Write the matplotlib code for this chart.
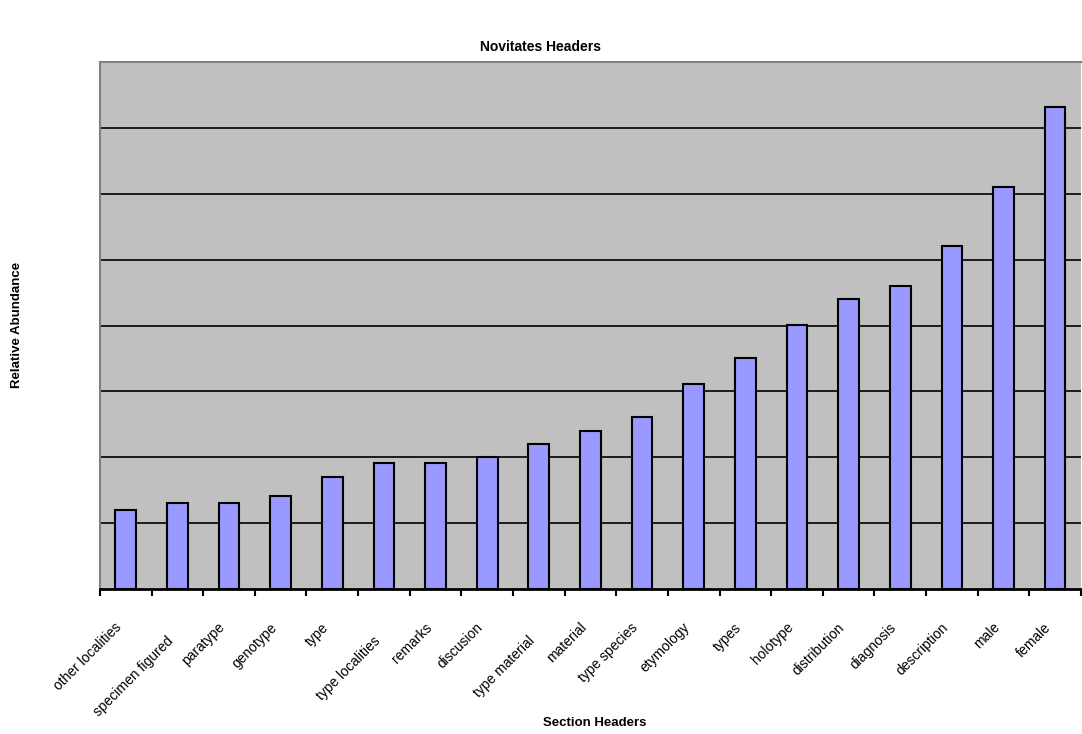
import matplotlib
matplotlib.use("Agg")
import matplotlib.pyplot as plt
import numpy as np

plt.rcParams['font.family'] = ['Liberation Sans', 'DejaVu Sans']

headers = ["other localities", "specimen figured", "paratype", "genotype", "type",
           "type localities", "remarks", "discusion", "type material", "material",
           "type species", "etymology", "types", "holotype", "distribution",
           "diagnosis", "description", "male", "female"]
abundance = [1.20, 1.31, 1.31, 1.41, 1.70, 1.91, 1.91, 2.00, 2.20, 2.40,
             2.61, 3.12, 3.51, 4.01, 4.41, 4.60, 5.21, 6.11, 7.31]
# labels pushed down a row so neighbours don't collide
staggered = {1, 5, 8}

def main():
    fig = plt.figure(figsize=(10.82, 7.34), dpi=100)
    ax = fig.add_axes([0.0924, 0.1975, 0.9066, 0.718])
    ax.set_facecolor('#c0c0c0')

    x = np.arange(len(headers))
    ax.bar(x, abundance, width=0.4, color='#9999ff', edgecolor='black',
           linewidth=1.5, zorder=3)

    ax.set_xlim(-0.5, len(headers) - 0.5)
    ax.set_ylim(0, 8)
    ax.set_yticks(np.arange(1, 8))
    ax.yaxis.grid(True, color='black', linewidth=1.2, zorder=1)
    ax.tick_params(axis='y', left=False, labelleft=False)

    # category boundaries carry the tick marks
    ax.set_xticks(np.arange(len(headers) + 1) - 0.5)
    ax.tick_params(axis='x', direction='out', length=5, width=1.5,
                   color='black', labelbottom=False)

    for i, name in enumerate(headers):
        dy = -32 if i in staggered else -22.5
        ax.annotate(name, xy=(i, 0), xycoords=('data', 'axes fraction'),
                    xytext=(-8, dy), textcoords='offset points',
                    rotation=45, ha='right', va='top', rotation_mode='anchor',
                    fontsize=10, annotation_clip=False)

    for side in ['left', 'top']:
        ax.spines[side].set_color('#808080')
        ax.spines[side].set_linewidth(1.5)
    ax.spines['right'].set_visible(False)
    ax.spines['bottom'].set_color('black')
    ax.spines['bottom'].set_linewidth(2)

    fig.text(0.5, 0.936, 'Novitates Headers', ha='center', va='center',
             fontsize=10, fontweight='bold')
    fig.text(0.55, 0.015, 'Section Headers', ha='center', va='center',
             fontsize=9.5, fontweight='bold')
    fig.text(0.016, 0.557, 'Relative Abundance', ha='center', va='center',
             rotation=90, fontsize=9.5, fontweight='bold')

    fig.savefig('out.png', dpi=100)

main()
